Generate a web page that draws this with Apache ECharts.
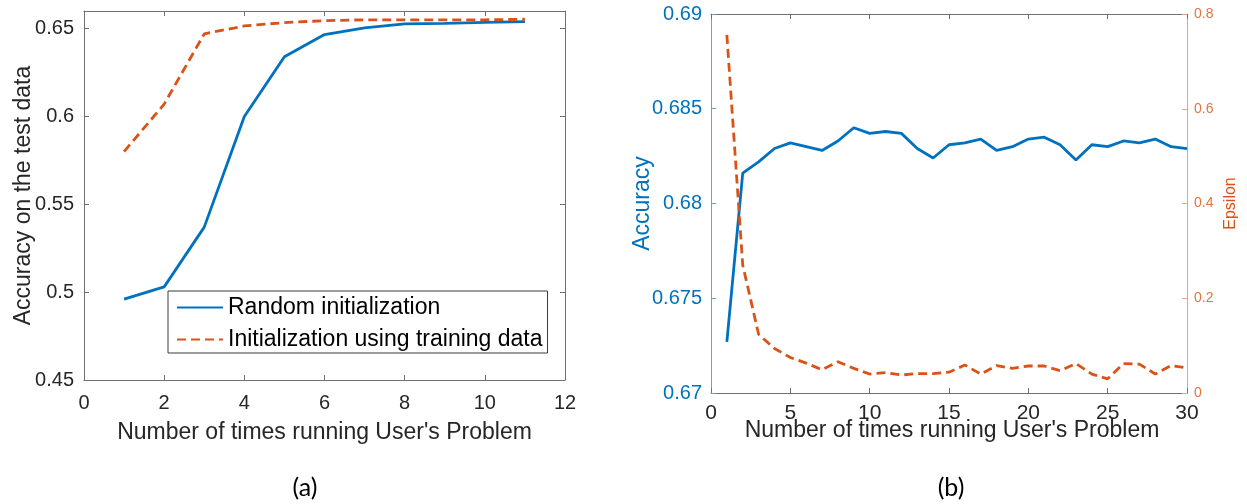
<!DOCTYPE html>
<html>
<head>
<meta charset="utf-8">
<style>
  html, body { margin: 0; padding: 0; background: #ffffff; }
  #chart { width: 1247px; height: 504px; }
</style>
<script src="https://cdn.jsdelivr.net/npm/echarts@6/dist/echarts.min.js"></script>
</head>
<body>
<div id="chart"></div>
<script>
// (a) accuracy on the test data per run, for two initialization schemes
const runsA = [1, 2, 3, 4, 5, 6, 7, 8, 9, 10, 11];
const randomInit = [0.496, 0.503, 0.537, 0.600, 0.634, 0.6466, 0.6504, 0.6527, 0.6530, 0.6535, 0.6540];
const trainingInit = [0.580, 0.607, 0.647, 0.6515, 0.6534, 0.6545, 0.6550, 0.6550, 0.6550, 0.6550, 0.6553];

// (b) accuracy (left axis) and epsilon (right axis) per run
const runsB = [1, 2, 3, 4, 5, 6, 7, 8, 9, 10, 11, 12, 13, 14, 15, 16, 17, 18, 19, 20, 21, 22, 23, 24, 25, 26, 27, 28, 29, 30];
const accuracyB = [0.6727, 0.6816, 0.6822, 0.6829, 0.6832, 0.6830, 0.6828, 0.6833, 0.6840, 0.6837,
                   0.6838, 0.6837, 0.6829, 0.6824, 0.6831, 0.6832, 0.6834, 0.6828, 0.6830, 0.6834,
                   0.6835, 0.6831, 0.6823, 0.6831, 0.6830, 0.6833, 0.6832, 0.6834, 0.6830, 0.6829];
const epsilonB = [0.756, 0.270, 0.124, 0.094, 0.075, 0.063, 0.049, 0.066, 0.052, 0.040,
                  0.043, 0.038, 0.041, 0.041, 0.044, 0.059, 0.040, 0.058, 0.052, 0.057,
                  0.057, 0.047, 0.062, 0.040, 0.030, 0.062, 0.061, 0.040, 0.058, 0.053];

// tick values
const ticksXA = [0, 2, 4, 6, 8, 10, 12];
const ticksYA = [0.45, 0.5, 0.55, 0.6, 0.65];
const ticksXB = [0, 5, 10, 15, 20, 25, 30];
const ticksYBLeft = [0.67, 0.675, 0.68, 0.685, 0.69];
const ticksYBRight = [0, 0.2, 0.4, 0.6, 0.8];

const nameRandom = 'Random initialization';
const nameTraining = 'Initialization using training data';
const xName = "Number of times running User's Problem";

const BLUE = '#0072BD';
const ORANGE = '#D95319';
const AXIS_GREY = '#707070';
const TEXT_GREY = '#262626';
const FONT = '"Liberation Sans", Arial, Helvetica, sans-serif';
const LINE_W = 2.8;
const DASH = [9, 5];

function pairs(xs, ys) { return xs.map((x, i) => [x, ys[i]]); }

// axis with MATLAB-style inward ticks; the frame sides carry no labels
function frameAxis(gridIndex, position, ticks, extra) {
  const color = (extra && extra.lineColor) || AXIS_GREY;
  const axis = {
    gridIndex: gridIndex,
    type: 'value',
    position: position,
    nameMoveOverlap: false,
    axisLine: { show: true, onZero: false, lineStyle: { color: color, width: 1 } },
    axisTick: { show: true, inside: true, length: 5, customValues: ticks, lineStyle: { color: color } },
    axisLabel: { show: false },
    splitLine: { show: false }
  };
  if (extra) {
    Object.keys(extra).forEach(k => { if (k !== 'lineColor') axis[k] = extra[k]; });
  }
  return axis;
}

const chart = echarts.init(document.getElementById('chart'), null, { renderer: 'canvas' });

chart.setOption({
  animation: false,
  backgroundColor: '#ffffff',
  grid: [
    { left: 84, top: 11, width: 481, height: 369 },
    { left: 711, top: 14, width: 476, height: 379 }
  ],
  xAxis: [
    frameAxis(0, 'bottom', ticksXA, {
      min: 0, max: 12, interval: 2,
      axisLabel: { show: true, customValues: ticksXA, fontSize: 20, fontFamily: FONT, color: TEXT_GREY, margin: 13 },
      name: xName, nameLocation: 'middle', nameGap: 41,
      nameTextStyle: { fontSize: 23, fontFamily: FONT, color: TEXT_GREY }
    }),
    frameAxis(0, 'top', ticksXA, { min: 0, max: 12, interval: 2 }),
    frameAxis(1, 'bottom', ticksXB, {
      min: 0, max: 30, interval: 5,
      axisLabel: { show: true, customValues: ticksXB, fontSize: 21, fontFamily: FONT, color: TEXT_GREY, margin: 10 },
      name: xName, nameLocation: 'middle', nameGap: 26,
      nameTextStyle: { fontSize: 23, fontFamily: FONT, color: TEXT_GREY, padding: [0, 0, 0, 6] }
    }),
    frameAxis(1, 'top', ticksXB, { min: 0, max: 30, interval: 5 })
  ],
  yAxis: [
    frameAxis(0, 'left', ticksYA, {
      min: 0.45, max: 0.66, interval: 0.05,
      axisLabel: { show: true, customValues: ticksYA, fontSize: 20, fontFamily: FONT, color: TEXT_GREY, margin: 10 },
      name: 'Accuracy on the test data', nameLocation: 'middle', nameRotate: 90, nameGap: 49,
      nameTextStyle: { fontSize: 23, fontFamily: FONT, color: TEXT_GREY }
    }),
    frameAxis(0, 'right', ticksYA, { min: 0.45, max: 0.66, interval: 0.05 }),
    frameAxis(1, 'left', ticksYBLeft, {
      lineColor: '#5fa6da',
      min: 0.67, max: 0.69, interval: 0.005,
      axisLabel: { show: true, customValues: ticksYBLeft, fontSize: 20, fontFamily: FONT, color: BLUE, margin: 9 },
      name: 'Accuracy', nameLocation: 'middle', nameRotate: 90, nameGap: 57,
      nameTextStyle: { fontSize: 23, fontFamily: FONT, color: BLUE }
    }),
    frameAxis(1, 'right', ticksYBRight, {
      lineColor: '#eea07e',
      min: 0, max: 0.8, interval: 0.2,
      axisLabel: { show: true, customValues: ticksYBRight, fontSize: 14, fontFamily: FONT, color: '#e2743f', margin: 7 },
      name: 'Epsilon', nameLocation: 'middle', nameRotate: 90, nameGap: 36,
      nameTextStyle: { fontSize: 16, fontFamily: FONT, color: ORANGE }
    })
  ],
  legend: {
    orient: 'vertical',
    left: 168,
    top: 291,
    data: [nameRandom, nameTraining],
    itemWidth: 46,
    itemHeight: 14,
    itemGap: 9,
    padding: [5, 5, 2, 8],
    borderColor: '#3a3a3a',
    borderWidth: 1,
    borderRadius: 0,
    backgroundColor: '#ffffff',
    itemStyle: { color: 'rgba(0,0,0,0)', borderWidth: 0, opacity: 0 },
    textStyle: { fontSize: 23, fontFamily: FONT, color: '#000000' }
  },
  series: [
    {
      name: nameRandom, type: 'line', xAxisIndex: 0, yAxisIndex: 0,
      data: pairs(runsA, randomInit),
      symbol: 'none', color: BLUE,
      lineStyle: { color: BLUE, width: LINE_W }
    },
    {
      name: nameTraining, type: 'line', xAxisIndex: 0, yAxisIndex: 0,
      data: pairs(runsA, trainingInit),
      symbol: 'none', color: ORANGE,
      lineStyle: { color: ORANGE, width: LINE_W, type: DASH }
    },
    {
      name: 'Accuracy', type: 'line', xAxisIndex: 2, yAxisIndex: 2,
      data: pairs(runsB, accuracyB),
      symbol: 'none', color: BLUE,
      lineStyle: { color: BLUE, width: LINE_W }
    },
    {
      name: 'Epsilon', type: 'line', xAxisIndex: 2, yAxisIndex: 3,
      data: pairs(runsB, epsilonB),
      symbol: 'none', color: ORANGE,
      lineStyle: { color: ORANGE, width: LINE_W, type: DASH }
    }
  ],
  graphic: [
    { type: 'text', x: 305, y: 488, style: { text: '(a)', textAlign: 'center', textVerticalAlign: 'middle', font: '25px Lato, "Open Sans", sans-serif', fill: '#000000' } },
    { type: 'text', x: 951, y: 488, style: { text: '(b)', textAlign: 'center', textVerticalAlign: 'middle', font: '25px Lato, "Open Sans", sans-serif', fill: '#000000' } }
  ]
});
</script>
</body>
</html>
